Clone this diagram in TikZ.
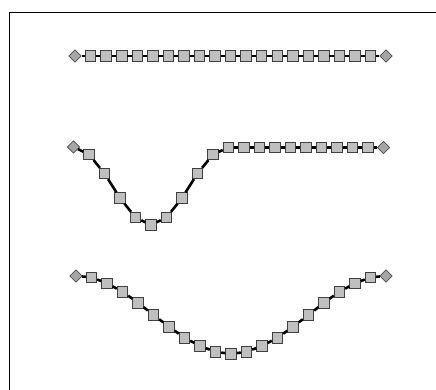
\documentclass[tikz,border=0pt]{standalone}
\usetikzlibrary{shapes.geometric}
\begin{document}
\begin{tikzpicture}[x=1pt,y=-1pt,
  sq/.style={draw=black!75,fill=black!25,line width=0.8pt,minimum size=10.5pt,inner sep=0pt,rectangle},
  endpt/.style={draw=black!70,fill=black!35,line width=0.8pt,diamond,minimum size=12.5pt,inner sep=0pt},
  link/.style={line width=2.6pt,black},
  frame/.style={line width=1.6pt,black}]
\useasboundingbox (0,0) rectangle (436,390);
\coordinate (ftl) at (9.3,12.5);
\coordinate (ftr) at (440,12.5);
\coordinate (fbl) at (9.3,394);
\draw[frame] (ftr) -- (ftl) -- (fbl);
% chain 1
\foreach \i in {0,...,20} {
  \pgfmathsetmacro{\xx}{75+15.55*\i}
  \ifnum\i=0 \node[endpt] (a\i) at (\xx,56) {};
  \else\ifnum\i=20 \node[endpt] (a\i) at (\xx,56) {};
  \else \node[sq] (a\i) at (\xx,56) {};
  \fi\fi
}
\foreach \i [evaluate=\i as \j using int(\i+1)] in {0,...,19} \draw[link] (a\i) -- (a\j);
% chain 2
\foreach \i/\yy in {0/147,1/154.5,2/173.5,3/198,4/217.5,5/225,6/217.5,7/198,8/173.5,9/154.5,10/147.5,11/147.5,12/147.5,13/147.5,14/147.5,15/147.5,16/147.5,17/147.5,18/147.5,19/147.5,20/147.5} {
  \pgfmathsetmacro{\xx}{73.5+15.5*\i}
  \ifnum\i=0 \node[endpt] (b\i) at (\xx,\yy) {};
  \else\ifnum\i=20 \node[endpt] (b\i) at (\xx,\yy) {};
  \else \node[sq] (b\i) at (\xx,\yy) {};
  \fi\fi
}
\foreach \i [evaluate=\i as \j using int(\i+1)] in {0,...,19} \draw[link] (b\i) -- (b\j);
% chain 3
\foreach \i/\yy in {0/276,1/277.3,2/283.3,3/291.7,4/302.7,5/315,6/326.7,7/337.7,8/346,9/351.7,10/354,11/351.7,12/346,13/337.7,14/326.7,15/315,16/302.7,17/291.7,18/283.3,19/277.3,20/276} {
  \pgfmathsetmacro{\xx}{76+15.5*\i}
  \ifnum\i=0 \node[endpt] (c\i) at (\xx,\yy) {};
  \else\ifnum\i=20 \node[endpt] (c\i) at (\xx,\yy) {};
  \else \node[sq] (c\i) at (\xx,\yy) {};
  \fi\fi
}
\foreach \i [evaluate=\i as \j using int(\i+1)] in {0,...,19} \draw[link] (c\i) -- (c\j);
\end{tikzpicture}
\end{document}
